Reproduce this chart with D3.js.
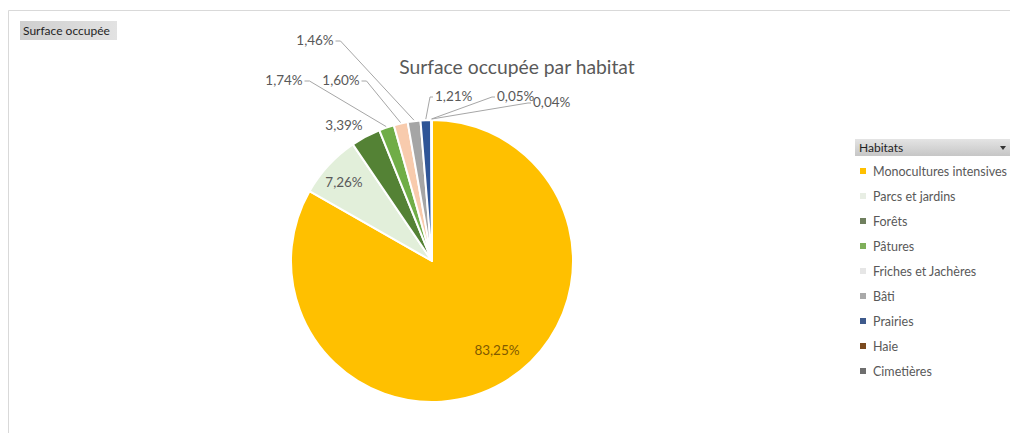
<!DOCTYPE html>
<html>
<head>
<meta charset="utf-8">
<script src="https://cdn.jsdelivr.net/npm/d3@7/dist/d3.min.js"></script>
<style>
  html, body { margin: 0; padding: 0; background: #fff; }
  svg { display: block; font-family: Lato, "Open Sans", sans-serif; }
</style>
</head>
<body>
<svg id="chart" width="1010" height="433"></svg>
<script>
// Habitat categories, in drawing order (clockwise from 12 o'clock)
const habitats = ["Monocultures intensives", "Parcs et jardins", "Forêts", "Pâtures",
                  "Friches et Jachères", "Bâti", "Prairies", "Haie", "Cimetières"];
// Share of the surface, in percent
const shares = [83.25, 7.26, 3.39, 1.74, 1.60, 1.46, 1.21, 0.05, 0.04];
// Slice fill per habitat
const sliceColors = ["#FFC000", "#E2EFDA", "#548235", "#70AD47", "#F8CBAD",
                     "#A5A5A5", "#2F5597", "#843C0C", "#7F7F7F"];
// Legend marker colour per habitat
const legendColors = ["#FFC000", "#E8EEE4", "#6F7F5E", "#7FAF5A", "#E6E6E6",
                      "#A9A9A9", "#3E5A8C", "#7A4A1E", "#6E6E6E"];

// Label layout: [x, y, anchor, leader?] for each slice's percentage text
const labelLayout = [
  [497, 355, "middle", false],
  [344, 187, "middle", false],
  [344, 130, "middle", false],
  [284, 85, "middle", true],
  [341, 85, "middle", true],
  [315, 45, "middle", true],
  [435, 101, "start", true],
  [497, 101, "start", true],
  [533, 107, "start", true]
];

const svg = d3.select("#chart");
const fmt = v => d3.format(".2f")(v).replace(".", ",") + "%";

// Frame lines of the chart area
svg.append("line").attr("x1", 8.5).attr("y1", 10.5).attr("x2", 1010).attr("y2", 10.5)
  .attr("stroke", "#d9d9d9");
svg.append("line").attr("x1", 8.5).attr("y1", 10.5).attr("x2", 8.5).attr("y2", 433)
  .attr("stroke", "#d9d9d9");

// Gradients for the field buttons
const defs = svg.append("defs");
const grad = defs.append("linearGradient").attr("id", "btn").attr("x1", 0).attr("y1", 0).attr("x2", 0).attr("y2", 1);
grad.append("stop").attr("offset", "0%").attr("stop-color", "#e4e4e4");
grad.append("stop").attr("offset", "100%").attr("stop-color", "#c6c6c6");
const gradH = defs.append("linearGradient").attr("id", "btnH").attr("x1", 0).attr("y1", 0).attr("x2", 1).attr("y2", 0);
gradH.append("stop").attr("offset", "0%").attr("stop-color", "#cfcfcf");
gradH.append("stop").attr("offset", "100%").attr("stop-color", "#e2e2e2");

// "Surface occupée" value field button
svg.append("rect").attr("x", 20).attr("y", 21).attr("width", 97).attr("height", 19)
  .attr("fill", "url(#btnH)");
svg.append("text").attr("x", 23).attr("y", 35).attr("font-size", 12)
  .attr("fill", "#1f1f1f").text("Surface occupée");

// Title
svg.append("text").attr("x", 517).attr("y", 74).attr("text-anchor", "middle")
  .attr("font-size", 19.3).attr("fill", "#595959").text("Surface occupée par habitat");

// Pie
const cx = 432, cy = 261, radius = 141;
const pie = d3.pie().sort(null).value(d => d.value);
const arc = d3.arc().innerRadius(0).outerRadius(radius);
const data = habitats.map((h, i) => ({ name: h, value: shares[i], color: sliceColors[i] }));
const arcs = pie(data);

const g = svg.append("g").attr("transform", `translate(${cx},${cy})`);
g.selectAll("path.slice").data(arcs).join("path")
  .attr("class", "slice")
  .attr("d", arc)
  .attr("fill", d => d.data.color)
  .attr("stroke", "#fff")
  .attr("stroke-width", 2)
  .attr("stroke-linejoin", "round");

// Leader lines from the slice rim to the label
arcs.forEach((d, i) => {
  const [lx, ly, anchor, leader] = labelLayout[i];
  if (!leader) return;
  const mid = (d.startAngle + d.endAngle) / 2;
  const px = cx + (radius + 1) * Math.sin(mid);
  const py = cy - (radius + 1) * Math.cos(mid);
  const textW = 37;
  let ex, ey = ly - 4;
  if (anchor === "middle") {
    ex = lx + textW / 2 + 2;
  } else {
    ex = lx - 2;
  }
  const kx = anchor === "middle" ? ex + 5 : ex - 3;
  svg.append("polyline")
    .attr("points", `${ex},${ey} ${kx},${ey} ${px},${py}`)
    .attr("fill", "none").attr("stroke", "#a6a6a6").attr("stroke-width", 1);
});

// Percentage labels
svg.selectAll("text.pct").data(arcs).join("text")
  .attr("class", "pct")
  .attr("x", (d, i) => labelLayout[i][0])
  .attr("y", (d, i) => labelLayout[i][1])
  .attr("text-anchor", (d, i) => labelLayout[i][2])
  .attr("font-size", 13.5)
  .attr("fill", (d, i) => i === 0 ? "#7F5A00" : "#595959")
  .text(d => fmt(d.data.value));

// Legend header (row field button)
svg.append("rect").attr("x", 855).attr("y", 139).attr("width", 155).attr("height", 17)
  .attr("fill", "url(#btn)");
svg.append("text").attr("x", 859).attr("y", 152).attr("font-size", 12)
  .attr("fill", "#1f1f1f").text("Habitats");
svg.append("path").attr("d", "M1000,146 L1006,146 L1003,150 Z").attr("fill", "#333");

// Legend entries
const legend = svg.append("g");
const rows = legend.selectAll("g").data(habitats).join("g")
  .attr("transform", (d, i) => `translate(860, ${171 + i * 25})`);
rows.append("rect").attr("x", 0).attr("y", -3).attr("width", 6).attr("height", 6)
  .attr("fill", (d, i) => legendColors[i]);
rows.append("text").attr("x", 13).attr("y", 4.5).attr("font-size", 12.5)
  .attr("fill", "#595959").text(d => d);
</script>
</body>
</html>
